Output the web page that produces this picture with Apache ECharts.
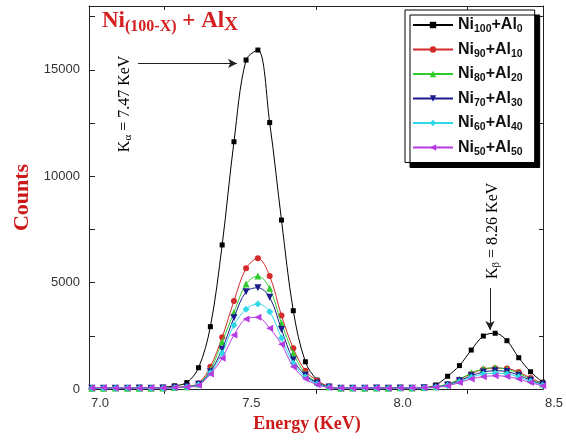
<!DOCTYPE html>
<html><head><meta charset="utf-8">
<script src="https://cdn.jsdelivr.net/npm/echarts@6/dist/echarts.min.js"></script>
<style>html,body{margin:0;padding:0;background:#fff}#c{width:566px;height:440px}</style>
</head><body><div id="c"></div>
<script>
// ---- data ----
const energy = [7.009,7.048,7.087,7.127,7.166,7.205,7.244,7.283,7.323,7.362,7.401,7.440,7.479,7.519,7.558,7.597,7.636,7.675,7.715,7.754,7.793,7.832,7.871,7.911,7.950,7.989,8.028,8.067,8.107,8.146,8.185,8.224,8.263,8.303,8.342,8.381,8.420,8.459,8.499];
const ni100al0 = [40,30,50,40,30,60,80,150,300,1000,2930,6770,11620,15460,15930,12520,7940,3680,1280,420,100,40,30,50,40,50,60,50,60,190,600,1100,1830,2490,2620,2270,1470,810,320];
const ni90al10 = [40,50,30,50,40,50,60,80,120,270,1050,2430,4140,5670,6140,5310,3450,1910,860,390,120,50,40,50,40,60,50,60,70,100,220,440,720,920,980,960,800,520,260];
const ni80al20 = [40,30,50,40,30,40,50,70,110,240,900,2220,3600,4930,5310,4730,3090,1680,720,320,100,40,50,40,50,40,60,50,70,100,230,460,750,950,1000,930,740,470,240];
const ni70al30 = [30,40,40,30,50,40,50,60,100,220,810,1870,3350,4570,4760,4310,2800,1360,650,280,90,40,40,30,50,40,50,40,60,90,190,390,620,800,860,820,650,410,210];
const ni60al40 = [40,30,40,50,30,40,40,60,90,200,750,1680,3000,3750,4000,3630,2400,1210,560,240,80,40,30,50,40,30,40,50,50,80,170,340,550,700,740,710,570,360,180];
const ni50al50 = [50,60,40,50,40,60,50,70,90,180,700,1440,2540,3290,3370,2850,2100,1050,480,200,70,50,40,60,50,40,50,60,60,80,150,300,470,580,620,590,470,300,150];
const seriesNames = ['Ni100+Al0','Ni90+Al10','Ni80+Al20','Ni70+Al30','Ni60+Al40','Ni50+Al50'];
const niSub = ['100','90','80','70','60','50'];
const alSub = ['0','10','20','30','40','50'];
const xTickLabels = ['7.0','7.5','8.0','8.5'];
const yTickLabels = ['0','5000','10000','15000'];
// annotations (data coordinates)
const kaArrow = [[7.162,15300],[7.489,15300]];
const kbArrow = [[8.325,4750],[8.325,2770]];
const kaLabelAt = [7.119,13400];
const kbLabelAt = [8.335,7430];

const allData = [ni100al0, ni90al10, ni80al20, ni70al30, ni60al40, ni50al50];
const colors = ['#000000','#D42A2A','#2FCB2F','#1C1C8E','#2ED8E6','#B63CE0'];
const symbols = ['rect','circle','triangle','triangle','diamond','triangle'];
const symSizes = [5,6,7,7,7,7];
const symRot = [0,0,0,180,0,90];

const chart = echarts.init(document.getElementById('c'));
const serif = 'Liberation Serif, Times New Roman, serif';
const sans = 'Liberation Sans, Arial, sans-serif';

const series = allData.map((d, k) => ({
  name: seriesNames[k], type: 'line', smooth: 0.35,
  data: energy.map((x, i) => [x, d[i]]),
  symbol: symbols[k], symbolSize: symSizes[k], symbolRotate: symRot[k],
  showAllSymbol: true,
  lineStyle: { color: colors[k], width: 1 },
  itemStyle: { color: colors[k] },
  z: 2 + k
}));
series[0].markLine = {
  silent: true, symbol: ['none', 'arrow'], symbolSize: [7, 9],
  lineStyle: { color: '#222', width: 1, type: 'solid' },
  label: { show: false },
  data: [
    [{ coord: kaArrow[0] }, { coord: kaArrow[1] }],
    [{ coord: kbArrow[0] }, { coord: kbArrow[1] }]
  ]
};

chart.setOption({
  animation: false,
  backgroundColor: '#fff',
  grid: { left: 89, right: 23, top: 6, bottom: 51 },
  xAxis: [{
    type: 'value', min: 7.0, max: 8.5, interval: 0.5, position: 'bottom',
    axisLine: { onZero: false, lineStyle: { color: '#222', width: 1 } },
    axisTick: { show: false },
    minorTick: { show: true, splitNumber: 2, length: 5, lineStyle: { color: '#222', width: 1 } },
    splitLine: { show: false }, minorSplitLine: { show: false },
    axisLabel: { color: '#333', fontSize: 13, fontFamily: sans, margin: 8, padding: [0, 0, 0, 22],
      showMinLabel: true, showMaxLabel: true,
      formatter: v => { const s = v.toFixed(1); return xTickLabels.indexOf(s) >= 0 ? s : ''; } },
    name: 'Energy (KeV)', nameLocation: 'middle', nameGap: 26,
    nameTextStyle: { color: '#CC1A1A', fontSize: 18, fontWeight: 'bold', fontFamily: serif, padding: [0, 18, 0, 0] }
  }, {
    type: 'value', min: 7.0, max: 8.5, interval: 0.5, position: 'top',
    axisLine: { onZero: false, lineStyle: { color: '#222', width: 1 } },
    axisTick: { show: false, inside: true },
    minorTick: { show: true, splitNumber: 2, length: 4, lineStyle: { color: '#222' } },
    axisLabel: { show: false }, splitLine: { show: false }
  }],
  yAxis: [{
    type: 'value', min: 0, max: 18000, interval: 5000, position: 'left',
    axisLine: { show: true, onZero: false, lineStyle: { color: '#222', width: 1 } },
    axisTick: { show: true, inside: true, length: 6, lineStyle: { color: '#222' } },
    minorTick: { show: true, splitNumber: 2, length: 6, lineStyle: { color: '#222' } },
    splitLine: { show: false },
    axisLabel: { color: '#333', fontSize: 13, fontFamily: sans, margin: 9, showMaxLabel: false,
      formatter: v => { const s = String(v); return yTickLabels.indexOf(s) >= 0 ? s : ''; } },
    name: 'Counts', nameLocation: 'middle', nameGap: 55,
    nameTextStyle: { color: '#CC1A1A', fontSize: 22, fontWeight: 'bold', fontFamily: serif }
  }, {
    type: 'value', min: 0, max: 18000, interval: 5000, position: 'right',
    axisLine: { show: true, onZero: false, lineStyle: { color: '#222', width: 1 } },
    axisTick: { show: false, inside: true },
    minorTick: { show: true, splitNumber: 2, length: 4, lineStyle: { color: '#222' } },
    axisLabel: { show: false }, splitLine: { show: false }
  }],
  legend: {
    orient: 'vertical', left: 405, top: 10,
    itemWidth: 40, itemHeight: 8, itemGap: 6.5, padding: [7, 12, 5, 7],
    borderColor: '#000', borderWidth: 1, backgroundColor: '#fff',
    shadowColor: '#000', shadowBlur: 0, shadowOffsetX: 5, shadowOffsetY: 5,
    data: seriesNames,
    formatter: name => { const k = seriesNames.indexOf(name); return '{n|Ni}{s|' + niSub[k] + '}{n|+Al}{s|' + alSub[k] + '}'; },
    textStyle: {
      rich: {
        n: { fontSize: 16, fontWeight: 'bold', fontFamily: sans, color: '#111', lineHeight: 20 },
        s: { fontSize: 10.5, fontWeight: 'bold', fontFamily: sans, color: '#111', lineHeight: 10, verticalAlign: 'bottom' }
      }
    }
  },
  series: series
});

const kaPx = chart.convertToPixel({ gridIndex: 0 }, kaLabelAt);
const kbPx = chart.convertToPixel({ gridIndex: 0 }, kbLabelAt);
const annColor = '#9A2E2E';
const annRich = {
  k: { fontSize: 16, fontFamily: serif, color: annColor, lineHeight: 18 },
  s: { fontSize: 11, fontFamily: serif, color: annColor, lineHeight: 10, verticalAlign: 'bottom' }
};
chart.setOption({
  graphic: [
    { type: 'text', left: 102, top: 10, z: 20,
      style: { text: '{a|Ni}{b|(100-X)}{a| + Al}{c|X}',
        rich: {
          a: { fontSize: 23, fontWeight: 'bold', fontFamily: serif, fill: '#D42020', lineHeight: 26 },
          b: { fontSize: 16, fontWeight: 'bold', fontFamily: serif, fill: '#D42020', lineHeight: 14, verticalAlign: 'bottom' },
          c: { fontSize: 19, fontWeight: 'bold', fontFamily: serif, fill: '#D42020', lineHeight: 14, verticalAlign: 'bottom' }
        } } },
    { type: 'text', x: kaPx[0], y: kaPx[1], rotation: Math.PI / 2, z: 20,
      style: { text: '{k|K}{s|α}{k| = 7.47 KeV}', align: 'center', verticalAlign: 'middle', rich: annRich } },
    { type: 'text', x: kbPx[0], y: kbPx[1], rotation: Math.PI / 2, z: 20,
      style: { text: '{k|K}{s|β}{k| = 8.26 KeV}', align: 'center', verticalAlign: 'middle', rich: annRich } }
  ]
});
</script>
</body></html>
